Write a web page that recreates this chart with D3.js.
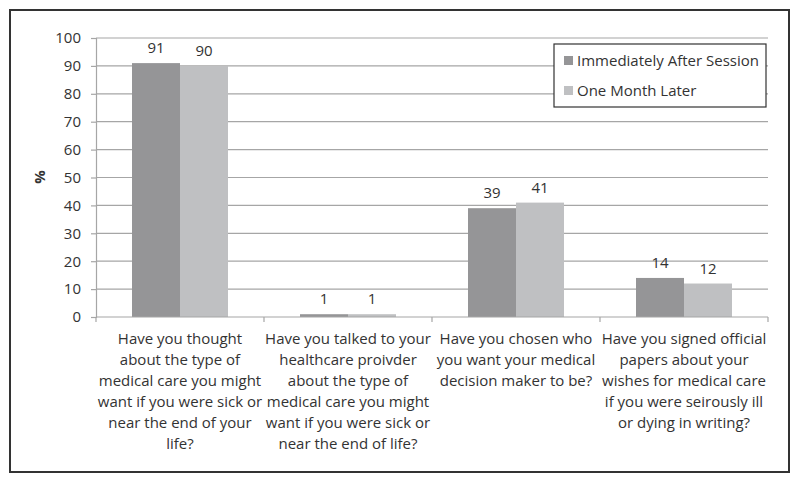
<!DOCTYPE html>
<html><head><meta charset="utf-8">
<script src="https://cdn.jsdelivr.net/npm/d3@7"></script>
<style>
body{margin:0;background:#fff;}
text{font-family:"Open Sans",sans-serif;fill:#333;}
</style></head>
<body><svg id="c" width="800" height="483"></svg>
<script>
const categories = [
  "Have you thought|about the type of|medical care you might|want if you were sick or|near the end of your|life?",
  "Have you talked to your|healthcare proivder|about the type of|medical care you might|want if you were sick or|near the end of life?",
  "Have you chosen who|you want your medical|decision maker to be?",
  "Have you signed official|papers about your|wishes for medical care|if you were seirously ill|or dying in writing?"
];
const seriesNames = ["Immediately After Session", "One Month Later"];
const immediately = [91, 1, 39, 14];
const oneMonth = [90, 1, 41, 12];
const yTicks = [0,10,20,30,40,50,60,70,80,90,100];
const colors = ["#959597", "#bfc0c2"];
const FS = 15;

const svg = d3.select("#c");
svg.append("rect").attr("x",10).attr("y",10).attr("width",779).attr("height",462)
  .attr("fill","#fff").attr("stroke","#333").attr("stroke-width",2);

const pL=96, pR=768, pT=38, pB=317;
const y = d3.scaleLinear().domain([0,100]).range([pB, pT]);
const x0 = d3.scaleBand().domain(d3.range(categories.length)).range([pL,pR]).padding(0);
const bw = x0.bandwidth();
const x1 = d3.scaleBand().domain([0,1]).range([bw*0.2143, bw*0.7857]).padding(0);

// grid
svg.append("g").selectAll("line").data(yTicks.filter(t=>t>0)).join("line")
  .attr("x1",pL).attr("x2",pR).attr("y1",d=>y(d)).attr("y2",d=>y(d))
  .attr("stroke","#a6a6a6").attr("stroke-width",1.2);

// y axis
const ya = svg.append("g").attr("transform",`translate(${pL},0)`)
  .call(d3.axisLeft(y).tickValues(yTicks).tickSize(5).tickPadding(10));
ya.select(".domain").attr("stroke","#a6a6a6").attr("stroke-width",1.2);
ya.selectAll(".tick line").attr("stroke","#a6a6a6").attr("stroke-width",1.2);
ya.selectAll(".tick text").attr("font-size",FS).attr("fill","#333").style("font-family","Open Sans");

svg.append("text").attr("transform","translate(45,177) rotate(-90)")
  .attr("text-anchor","middle").attr("font-size",FS).attr("font-weight","bold").text("%");

// bars
const data = categories.map((c,i)=>[immediately[i], oneMonth[i]]);
const g = svg.append("g").selectAll("g").data(data).join("g")
  .attr("transform",(d,i)=>`translate(${x0(i)},0)`);
g.selectAll("rect").data(d=>d).join("rect")
  .attr("x",(d,j)=>x1(j)).attr("width",x1.bandwidth())
  .attr("y",d=>y(d)).attr("height",d=>y(0)-y(d))
  .attr("fill",(d,j)=>colors[j]);
g.selectAll("text").data(d=>d).join("text")
  .attr("x",(d,j)=>x1(j)+x1.bandwidth()/2).attr("y",d=>y(d)-10)
  .attr("text-anchor","middle").attr("font-size",FS).text(d=>d);

// x axis
const xa = svg.append("g").attr("transform",`translate(0,${pB})`);
xa.append("line").attr("x1",pL).attr("x2",pR).attr("stroke","#a6a6a6").attr("stroke-width",1.2);
xa.selectAll("line.tk").data(d3.range(categories.length+1)).join("line").attr("class","tk")
  .attr("x1",i=>pL+i*bw).attr("x2",i=>pL+i*bw).attr("y1",0).attr("y2",5)
  .attr("stroke","#a6a6a6").attr("stroke-width",1.2);
categories.forEach((c,i)=>{
  const t = xa.append("text").attr("text-anchor","middle").attr("font-size",FS)
    .attr("x",x0(i)+bw/2).attr("y",27);
  c.split("|").forEach((ln,k)=>{
    t.append("tspan").attr("x",x0(i)+bw/2).attr("dy",k===0?0:21).text(ln);
  });
});

// legend
const lg = svg.append("g");
lg.append("rect").attr("x",554).attr("y",44).attr("width",212).attr("height",63)
  .attr("fill","#fff").attr("stroke","#333").attr("stroke-width",1.2);
seriesNames.forEach((s,i)=>{
  lg.append("rect").attr("x",564).attr("y",56+i*30).attr("width",9).attr("height",9).attr("fill",colors[i]);
  lg.append("text").attr("x",577).attr("y",66+i*30).attr("font-size",FS).text(s);
});
</script></body></html>
